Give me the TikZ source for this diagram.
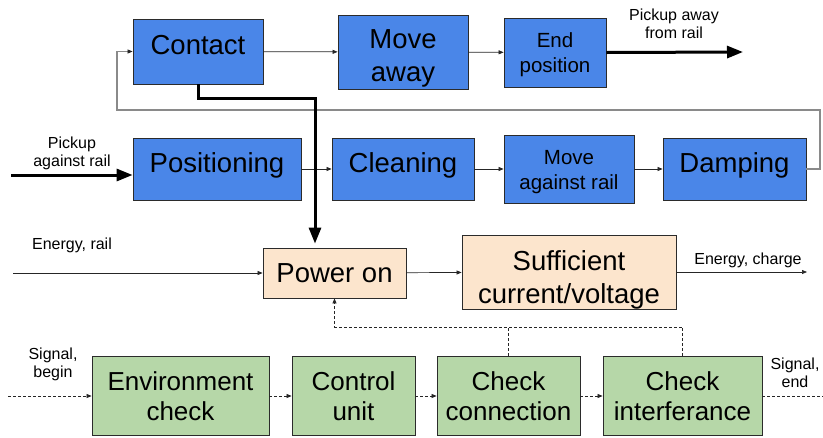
\documentclass[tikz,border=0pt]{standalone}
\usepackage{fontspec}
\setmainfont{Liberation Sans}
\usetikzlibrary{arrows.meta}
\definecolor{boxblue}{HTML}{4A86E8}
\definecolor{boxpeach}{HTML}{FCE5CD}
\definecolor{boxgreen}{HTML}{B6D7A8}
\definecolor{edgedark}{HTML}{2B2B2B}
\definecolor{loopgray}{HTML}{8A8A8A}
\tikzset{
  blk/.style={draw=edgedark, line width=0.8pt, align=center, inner sep=0pt, text=black},
  blue/.style={blk, fill=boxblue},
  peach/.style={blk, fill=boxpeach},
  green/.style={blk, fill=boxgreen},
  big/.style={align=center, inner sep=0pt, text=black, font=\fontsize{27.5}{33}\selectfont},
  mid/.style={align=center, inner sep=0pt, text=black, font=\fontsize{20.5}{25}\selectfont},
  grn/.style={font=\fontsize{26}{30}\selectfont},
  lbl/.style={align=center, inner sep=0pt, font=\fontsize{16}{18}\selectfont},
  thin/.style={draw=black!85, line width=0.7pt, -{Triangle[length=5pt,width=4pt]}},
  thick/.style={draw=black, line width=3pt, -{Triangle[length=16pt,width=12pt]}},
  sig/.style={draw=black!85, line width=0.7pt, dashed, dash pattern=on 3pt off 2pt}
}
\begin{document}
\begin{tikzpicture}[x=1pt, y=-1pt]
\useasboundingbox (0,0) rectangle (823,437);

% mechanical chain, top row
\node[blue, minimum width=130pt, minimum height=65pt,
      label={[big, yshift=6pt]center:Contact}] (contact) at (198,51.5) {};
\node[blue, minimum width=130pt, minimum height=74pt,
      label={[big, yshift=-6.5pt]center:Move\\away}] (moveaway) at (403,52) {};
\node[blue, minimum width=102pt, minimum height=69pt,
      label={[mid, yshift=-2.5pt]center:End\\position}] (endpos) at (555,52.5) {};

% mechanical chain, second row
\node[blue, minimum width=168pt, minimum height=62pt,
      label={[big, yshift=4pt]center:Positioning}] (posit) at (217,169) {};
\node[blue, minimum width=142pt, minimum height=62pt,
      label={[big, yshift=4pt]center:Cleaning}] (clean) at (403,169) {};
\node[blue, minimum width=130pt, minimum height=68pt,
      label={[mid, yshift=-3pt]center:Move\\against rail}] (moverail) at (569,169) {};
\node[blue, minimum width=143pt, minimum height=62pt,
      label={[big, yshift=4pt]center:Damping}] (damp) at (734.5,169) {};

% energy chain
\node[peach, minimum width=143pt, minimum height=50pt,
      label={[big]center:Power on}] (power) at (334.5,273) {};
\node[peach, minimum width=214pt, minimum height=74pt,
      label={[big, yshift=-7.5pt]center:Sufficient\\current/voltage}] (suff) at (569,272) {};

% signal chain
\node[green, grn, minimum width=177pt, minimum height=79pt] (env) at (180.5,396) {Environment\\check};
\node[green, grn, minimum width=123pt, minimum height=79pt] (ctrl) at (353.5,396) {Control\\unit};
\node[green, grn, minimum width=143pt, minimum height=79pt] (conn) at (508.5,396) {Check\\connection};
\node[green, grn, minimum width=159pt, minimum height=79pt] (intf) at (682.5,396) {Check\\interferance};

% labels
\node[lbl] (lpin) at (72,153) {Pickup\\against rail};
\node[lbl] (lpout) at (674,24) {Pickup away\\from rail};
\node[lbl] (lerail) at (72,245) {Energy, rail};
\node[lbl] (lecharge) at (748,260) {Energy, charge};
\node[lbl] (lsb) at (53,364) {Signal,\\begin};
\node[lbl] (lse) at (795,372.5) {Signal,\\end};

% free ends
\coordinate (pin) at (11,175);
\coordinate (pout) at (743,52);
\coordinate (erail) at (13,273);
\coordinate (echarge) at (807,272);
\coordinate (sbeg) at (8,396);
\coordinate (send) at (823,396);
\coordinate (tk) at (315,98);
\coordinate (fb1) at (820,110);
\coordinate (fb2) at (117,110);
\coordinate (dj) at (334.5,327);

% top row flow
\draw[thin] (contact) -- (moveaway);
\draw[thin] (moveaway) -- (endpos);
\draw[thick] (endpos.east) -- (pout);

% second row flow
\draw[thick] (pin) -- (pin -| posit.west);
\draw[thin] (posit) -- (clean);
\draw[thin] (clean) -- (moverail);
\draw[thin] (moverail) -- (damp);

% return from damping to contact
\draw[draw=loopgray, line width=1.4pt] (damp.east) -| (fb1) -- (fb2) |- ([xshift=-4pt]contact.west);
\draw[thin] ([xshift=-5pt]contact.west) -- (contact.west);

% contact switches power on
\draw[thick, shorten >=4pt] (contact.south) |- (tk) -- (tk |- power.north);

% energy flow
\draw[thin] (erail) -- (power.west);
\draw[thin] (power) -- (suff);
\draw[thin] (suff.east) -- (echarge);

% signal flow
\draw[sig, -{Triangle[length=5pt,width=4pt]}] (sbeg) -- (env.west);
\draw[sig, -{Triangle[length=5pt,width=4pt]}] (env) -- (ctrl);
\draw[sig, -{Triangle[length=5pt,width=4pt]}] (ctrl) -- (conn);
\draw[sig, -{Triangle[length=5pt,width=4pt]}] (conn) -- (intf);
\draw[sig] (intf.east) -- (send);

% check feedback to power on
\draw[sig] (conn.north) -- (conn.north |- dj);
\draw[sig, -{Triangle[length=5pt,width=4pt]}] (intf.north) |- (dj) -- (power.south);
\end{tikzpicture}
\end{document}
